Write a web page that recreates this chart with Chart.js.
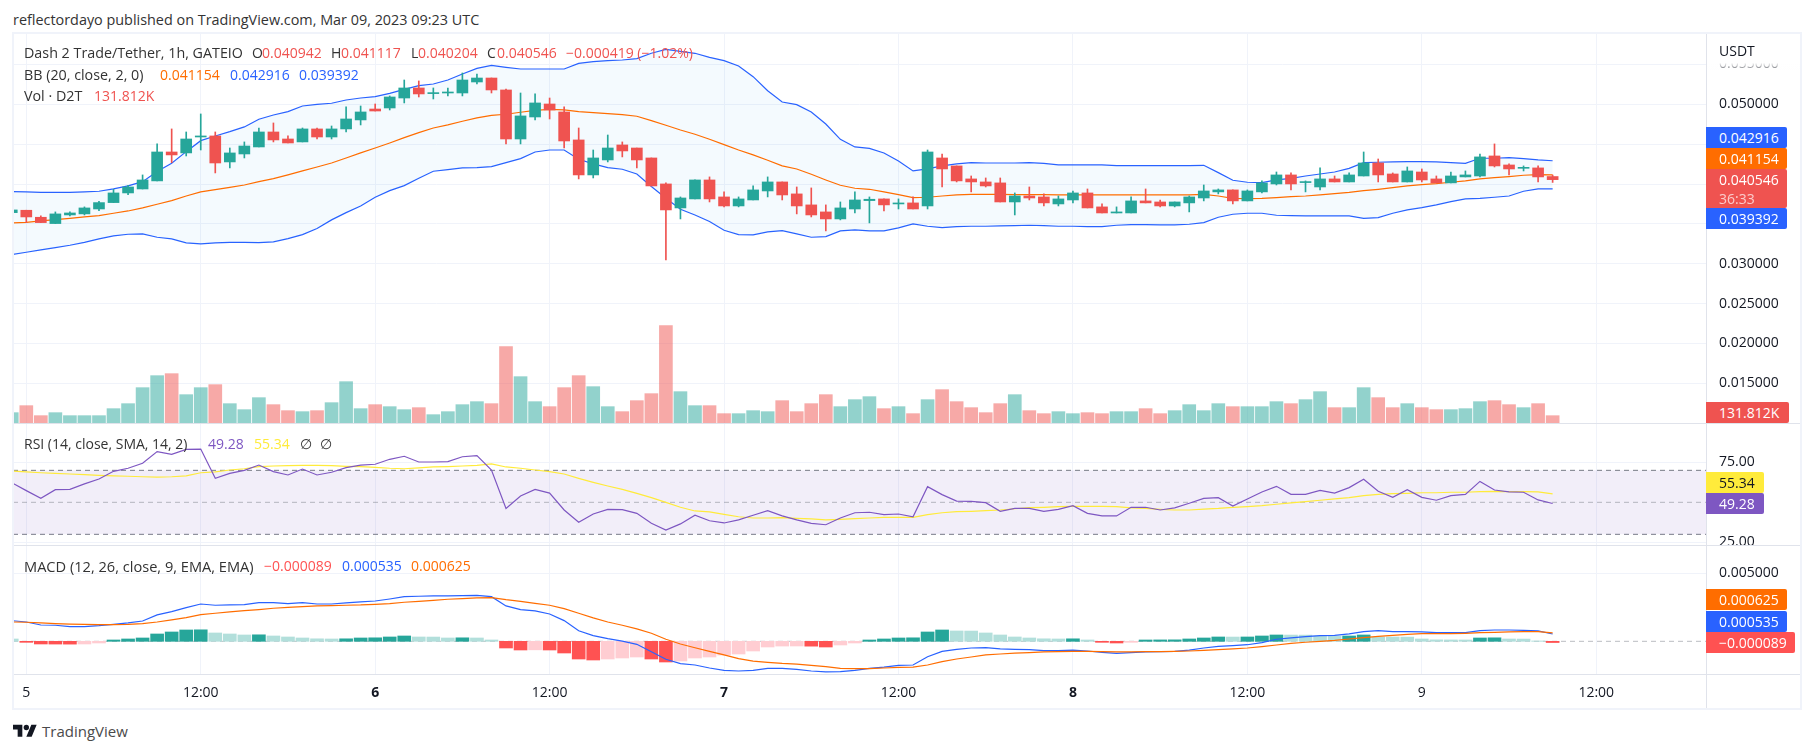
<!DOCTYPE html>
<html><head><meta charset="utf-8"><title>Dash 2 Trade/Tether</title>
<script src="https://cdn.jsdelivr.net/npm/chart.js@4"></script>
<style>
html,body{margin:0;padding:0;background:#fff;width:1814px;height:753px;overflow:hidden}
body{font-family:"Open Sans",sans-serif;font-size:14px;color:#131722;position:relative}
canvas{position:absolute;left:13px;display:block}
.t{position:absolute;white-space:pre;line-height:20px;height:20px;transform:translateY(-10px)}
.tag{position:absolute;left:1706px;padding-left:13px;box-sizing:border-box;color:#fff;line-height:21px;border-radius:0 2px 2px 0;z-index:6}
.r{position:absolute;background:#e0e3eb;z-index:5}
.f{position:absolute;background:#f0f3fa;z-index:5}
</style></head><body>
<canvas id="main" width="1788" height="389" style="top:34px"></canvas>
<canvas id="rsi" width="1788" height="122" style="top:424px"></canvas>
<canvas id="macd" width="1788" height="162" style="top:546px"></canvas>
<div class="f" style="left:12px;top:32px;width:1790px;height:2px"></div>
<div class="f" style="left:12px;top:708px;width:1790px;height:2px"></div>
<div class="f" style="left:12px;top:32px;width:2px;height:678px"></div>
<div class="f" style="left:1800px;top:32px;width:2px;height:678px"></div>
<div class="r" style="left:1706px;top:34px;width:1px;height:674px"></div>
<div class="r" style="left:14px;top:423px;width:1786px;height:1px"></div>
<div class="r" style="left:14px;top:545px;width:1786px;height:1px"></div>
<div class="r" style="left:14px;top:674px;width:1786px;height:1px"></div>
<div style="position:absolute;left:1707px;top:34px;width:93px;height:36px;background:linear-gradient(#fff 0,#fff 80%,rgba(255,255,255,.35) 100%);z-index:4"></div>
<svg style="position:absolute;left:13px;top:722px" width="24" height="19" viewBox="0 0 36 28" fill="#131722"><path d="M14 22H7V11H0V4h14v18zM28 22h-8l7.5-18h8L28 22z"/><circle cx="20" cy="8" r="4"/></svg>
<script>
const hours = Array.from({length:107},(_,i)=>i-1);
const opens = [
.03641,.03671,.03583,.03504,.03612,.03625,.03687,.03767,.03888,.03938,
.04039,.04402,.04390,.04590,.04603,.04277,.04377,.04465,.04653,.04565,
.04528,.04691,.04590,.04691,.04804,.04941,.04954,.05079,.05205,.05134,
.05142,.05142,.05280,.05330,.05180,.04565,.04841,.05004,.04904,.04553,
.04114,.04302,.04490,.04452,.04327,.04001,.03700,.03813,.04051,.03838,
.03725,.03800,.03913,.04026,.03876,.03738,.03650,.03562,.03687,.03792,
.03813,.03750,.03763,.03725,.04327,.04227,.04064,.04026,.04014,.03775,
.03850,.03838,.03750,.03800,.03888,.03713,.03637,.03637,.03788,.03775,
.03725,.03763,.03825,.03901,.03926,.03788,.03901,.04001,.04114,.04018,
.03963,.04064,.04026,.04101,.04264,.04126,.04026,.04151,.04064,.04014,
.04089,.04101,.04352,.04239,.04197,.04202,.04094];
const highs = [
.03675,.03671,.03600,.03650,.03650,.03713,.03784,.03934,.03984,.04114,
.04503,.04691,.04653,.04879,.04653,.04452,.04528,.04703,.04766,.04603,
.04703,.04703,.04728,.04967,.04979,.05004,.05105,.05305,.05293,.05205,
.05205,.05393,.05380,.05330,.05192,.05142,.05130,.05079,.04967,.04703,
.04427,.04615,.04528,.04452,.04327,.04014,.03838,.04051,.04089,.03901,
.03838,.03976,.04089,.04026,.03963,.03951,.03738,.03775,.03901,.03838,
.03813,.03813,.03838,.04427,.04377,.04227,.04101,.04076,.04076,.03888,
.03963,.03876,.03850,.03913,.03938,.03750,.03713,.03838,.03938,.03800,
.03775,.03850,.03988,.03938,.03926,.03926,.04039,.04151,.04139,.04039,
.04202,.04101,.04139,.04402,.04314,.04139,.04214,.04189,.04101,.04151,
.04164,.04377,.04503,.04252,.04227,.04227,.04112];
const lows = [
.03641,.03516,.03516,.03504,.03600,.03612,.03667,.03767,.03867,.03938,
.04039,.04268,.04352,.04427,.04139,.04202,.04327,.04465,.04528,.04515,
.04528,.04565,.04565,.04653,.04741,.04916,.04929,.05017,.05092,.05067,
.05105,.05105,.05255,.05142,.04503,.04503,.04804,.04816,.04452,.04064,
.04076,.04277,.04340,.04202,.03976,.03048,.03562,.03813,.03775,.03713,
.03713,.03800,.03838,.03800,.03625,.03587,.03412,.03550,.03637,.03512,
.03662,.03687,.03687,.03687,.03963,.04026,.03901,.03963,.03775,.03612,
.03800,.03725,.03725,.03763,.03700,.03637,.03637,.03637,.03763,.03713,
.03713,.03650,.03788,.03876,.03750,.03788,.03888,.03988,.03926,.03901,
.03926,.04026,.04026,.04101,.04026,.04026,.04026,.04026,.04014,.04014,
.04089,.04089,.04214,.04114,.04164,.04026,.04020];
const closes = [
.03675,.03587,.03516,.03625,.03637,.03700,.03767,.03888,.03963,.04051,
.04402,.04365,.04565,.04603,.04264,.04390,.04477,.04653,.04553,.04515,
.04691,.04590,.04691,.04816,.04904,.04916,.05092,.05205,.05130,.05142,
.05150,.05305,.05330,.05180,.04565,.04854,.05017,.04929,.04540,.04114,
.04327,.04452,.04415,.04302,.03976,.03675,.03825,.04051,.03813,.03725,
.03813,.03926,.04026,.03863,.03725,.03612,.03562,.03700,.03800,.03809,
.03738,.03759,.03687,.04402,.04189,.04039,.04026,.03976,.03775,.03850,
.03825,.03763,.03813,.03888,.03700,.03637,.03650,.03788,.03763,.03725,
.03775,.03838,.03913,.03926,.03788,.03913,.04014,.04114,.04001,.04026,
.04064,.04026,.04114,.04264,.04114,.04026,.04164,.04051,.04014,.04101,
.04114,.04340,.04227,.04189,.04206,.04089,.04055];
const bbUpper = [
.03905,.03901,.03896,.03896,.03896,.03901,.03909,.03938,.03976,.04030,
.04156,.04260,.04406,.04544,.04603,.04657,.04716,.04812,.04866,.04908,
.04979,.05000,.05013,.05054,.05079,.05096,.05138,.05188,.05234,.05255,
.05305,.05380,.05451,.05489,.05464,.05443,.05443,.05443,.05443,.05514,
.05535,.05548,.05556,.05573,.05640,.05690,.05665,.05640,.05589,.05548,
.05481,.05347,.05171,.05029,.04996,.04904,.04753,.04561,.04465,.04448,
.04390,.04289,.04164,.04189,.04227,.04252,.04268,.04264,.04264,.04264,
.04268,.04260,.04239,.04239,.04239,.04239,.04231,.04231,.04231,.04231,
.04231,.04231,.04235,.04143,.04047,.04022,.04018,.04051,.04072,.04101,
.04126,.04151,.04197,.04268,.04273,.04277,.04281,.04281,.04277,.04268,
.04260,.04323,.04323,.04331,.04319,.04302,.04292];
const bbBasis = [
.03512,.03520,.03537,.03554,.03570,.03587,.03604,.03633,.03662,.03700,
.03746,.03792,.03850,.03901,.03930,.03959,.03988,.04030,.04068,.04114,
.04164,.04214,.04264,.04327,.04390,.04452,.04515,.04582,.04645,.04703,
.04741,.04787,.04829,.04862,.04875,.04900,.04925,.04937,.04929,.04908,
.04895,.04883,.04870,.04850,.04795,.04737,.04678,.04624,.04561,.04494,
.04427,.04365,.04298,.04227,.04189,.04122,.04051,.03984,.03947,.03934,
.03901,.03867,.03830,.03834,.03850,.03863,.03871,.03871,.03871,.03867,
.03867,.03867,.03863,.03863,.03863,.03863,.03863,.03863,.03863,.03863,
.03863,.03863,.03871,.03850,.03821,.03817,.03821,.03830,.03842,.03850,
.03863,.03880,.03896,.03917,.03934,.03955,.03976,.03993,.04005,.04022,
.04039,.04064,.04080,.04093,.04110,.04118,.04115];
const bbLower = [
.03115,.03144,.03173,.03203,.03232,.03269,.03311,.03349,.03370,.03374,
.03332,.03311,.03261,.03249,.03261,.03269,.03269,.03265,.03274,.03315,
.03366,.03441,.03550,.03641,.03725,.03834,.03917,.03980,.04072,.04160,
.04181,.04202,.04206,.04218,.04268,.04319,.04402,.04427,.04427,.04310,
.04252,.04206,.04185,.04126,.03968,.03821,.03683,.03612,.03529,.03420,
.03366,.03361,.03399,.03416,.03374,.03332,.03341,.03412,.03424,.03412,
.03412,.03449,.03499,.03470,.03453,.03466,.03470,.03470,.03474,.03478,
.03483,.03478,.03470,.03470,.03466,.03466,.03483,.03491,.03491,.03487,
.03487,.03495,.03516,.03583,.03621,.03633,.03633,.03608,.03604,.03600,
.03600,.03600,.03600,.03570,.03579,.03633,.03675,.03704,.03738,.03779,
.03813,.03821,.03834,.03850,.03909,.03938,.03939];
const volumeK = [
186,312,132,186,132,132,132,258,348,636,
852,888,510,636,690,348,240,456,330,222,
204,222,366,744,258,330,294,240,276,150,
204,330,384,348,1374,834,384,294,636,852,
654,294,204,402,528,1752,564,312,312,168,
168,222,204,402,204,348,510,294,420,474,
258,294,168,420,600,384,276,186,348,510,
222,168,204,168,186,168,204,204,258,168,
222,330,222,348,294,294,294,384,348,420,
564,276,276,636,456,276,348,276,240,240,
258,384,402,330,276,348,131.812];
const rsiValues = [
62.3,57.3,52.5,57.9,58.1,61.5,64.6,69.4,71.3,74.4,
81.7,80.0,83.1,83.3,65.0,68.1,70.0,73.3,69.2,67.1,
70.8,67.1,68.8,71.7,73.3,73.8,76.9,78.8,75.2,75.2,
75.4,78.5,79.2,70.2,46.2,54.0,58.1,55.8,45.2,37.5,
42.7,45.6,45.4,43.1,36.9,32.7,36.5,41.9,38.5,37.1,
39.0,41.9,44.8,41.5,39.0,36.9,36.0,40.2,43.5,43.8,
42.3,42.7,41.0,59.8,54.8,50.8,50.6,49.8,44.4,46.2,
46.2,44.4,45.6,47.9,43.1,41.5,41.5,46.9,46.9,45.2,
46.5,49.4,52.5,52.9,47.7,52.1,56.5,60.0,55.0,55.0,
57.5,55.8,59.2,64.4,56.9,53.1,57.9,53.1,51.3,54.2,
55.0,63.1,57.7,56.5,56.3,51.5,49.28];
const rsiMa = [
69.6,69.0,68.5,68.1,67.7,67.3,66.9,66.5,66.3,66.0,
65.8,66.0,66.5,68.5,69.0,70.2,71.0,72.3,72.7,72.9,
73.1,73.1,72.9,72.5,72.3,71.9,71.3,71.0,71.5,72.1,
72.3,72.7,73.1,74.0,72.1,71.3,70.2,69.2,67.7,65.0,
62.5,60.2,58.1,55.6,52.9,50.0,46.9,44.6,44.0,42.5,
41.0,40.2,40.2,40.4,40.0,39.6,39.0,39.4,39.8,40.2,
40.6,40.6,40.6,42.3,43.5,44.2,44.4,44.8,45.2,46.0,
46.7,46.9,47.3,47.5,47.5,47.5,47.3,46.5,46.2,45.6,
45.2,45.2,45.8,46.2,46.9,47.3,47.9,48.8,49.6,50.4,
51.3,52.1,52.9,54.2,55.0,55.4,55.6,56.0,56.0,56.3,
56.3,56.7,56.9,56.7,56.7,56.5,55.34];
const MACD_UNIT = 1e-5; // the three MACD arrays are in units of 0.00001 USDT
const macdValues = [
152,142,120,118,108,108,115,125,135,149,
194,218,247,274,265,267,270,284,284,277,
284,274,274,282,289,296,311,328,331,333,
333,336,338,328,260,233,223,201,152,78,
42,20,2,-22,-76,-132,-164,-174,-196,-213,
-218,-213,-198,-198,-206,-218,-225,-223,-213,-198,
-189,-176,-174,-113,-74,-59,-49,-47,-56,-59,
-61,-69,-69,-64,-71,-81,-88,-83,-78,-76,
-74,-64,-49,-37,-32,-25,-10,15,25,34,
42,44,54,71,78,71,71,69,64,64,
64,78,83,83,81,76,53.5];
const macdSignal = [
142,140,135,130,127,125,123,123,125,130,
142,157,174,196,206,216,225,233,243,250,
255,260,262,265,267,272,277,287,294,301,
309,314,319,321,306,294,279,265,240,206,
172,142,118,91,59,15,-20,-47,-74,-100,
-127,-145,-154,-162,-167,-176,-186,-198,-201,-201,
-196,-191,-189,-174,-149,-130,-115,-100,-93,-86,
-83,-78,-76,-74,-74,-76,-78,-78,-76,-76,
-74,-71,-66,-61,-56,-49,-39,-27,-15,-7,
0,7,17,27,37,44,51,56,56,56,
59,64,66,69,71,71,62.5];
const macdHist = [
17.2,-7.4,-19.6,-20.1,-20.6,-19.6,-12.3,9.8,17.2,24.5,
53.9,68.6,83.3,84.5,61.3,53.9,46.6,47.8,39.2,31.9,
24.5,18.4,17.2,18.4,24.5,25.7,31.9,39.2,31.9,31.4,
24.5,25.7,24.5,9.8,-49.0,-63.7,-62.5,-63.7,-85.8,-129.9,
-137.2,-129.9,-122.5,-115.2,-129.9,-151.9,-144.6,-122.5,-115.2,-100.5,
-93.1,-71.1,-41.7,-34.8,-34.3,-35.5,-41.7,-27.0,-12.3,9.8,
17.2,24.5,25.7,68.6,83.3,76.0,75.5,61.3,46.6,31.9,
24.5,18.4,17.2,18.4,9.8,-7.4,-12.3,-7.4,9.8,10.3,
10.8,17.2,24.5,31.9,31.4,31.9,39.2,46.6,46.1,45.6,
39.2,38.7,39.2,46.6,31.9,31.4,30.9,17.2,10.8,10.3,
9.8,24.5,25.7,17.2,16.7,2.5,-8.9];
const priceTicks = [.015,.02,.025,.03,.035,.04,.045,.05,.055];
const rsiTicks = [25,75];
const macdTicks = [.005];
const dayTicks = [0,12,24,36,48,60,72,84,96,108];
const dayLabels = ['5','12:00','6','12:00','7','12:00','8','12:00','9','12:00'];
const boldDays = ['6','7','8'];

const UP='#26a69a',DOWN='#ef5350',UP_V='rgba(38,166,154,.5)',DOWN_V='rgba(239,83,80,.5)';
const BLUE='#2962ff',ORANGE='#ff6d00',PURPLE='#7e57c2',YELLOW='#ffeb3b';
const GRID='#f0f3fa',TEXT='#131722',FONT='"Open Sans",sans-serif';
const isUp = hours.map((_,i)=>closes[i]>=opens[i]);
const pts = arr => hours.map((x,i)=>({x,y:arr[i]}));
const xMin=-0.915,xMax=115.55;

function xScale(h,showTicks){return {
  type:'linear',min:xMin,max:xMax,offset:false,
  afterBuildTicks:s=>{s.ticks=dayTicks.map(value=>({value}));},
  afterFit:s=>{s.height=h;s.paddingLeft=s.paddingRight=0;},
  grid:{color:GRID,drawTicks:false,lineWidth:1,offset:false},border:{display:false},
  ticks:{display:showTicks,autoSkip:false,maxRotation:0,padding:11,color:TEXT,
    callback:(v,i)=>dayLabels[i],
    font:ctx=>({family:FONT,size:14,weight:boldDays.includes(dayLabels[ctx.index])?'bold':'normal'})}
};}
function yScale(min,max,tickVals,fmt){return {
  type:'linear',position:'right',min,max,
  afterBuildTicks:s=>{s.ticks=tickVals.map(value=>({value}));},
  afterFit:s=>{s.width=95;s.paddingTop=s.paddingBottom=0;},
  grid:{color:GRID,drawTicks:false},border:{display:false},
  ticks:{autoSkip:false,padding:13,color:TEXT,font:{family:FONT,size:14},callback:fmt}
};}
const baseOpts={responsive:false,animation:false,devicePixelRatio:1,events:[],
  layout:{padding:0,autoPadding:false},
  plugins:{legend:{display:false},tooltip:{enabled:false},title:{display:false}}};
const line=(data,color,extra)=>Object.assign({type:'line',data,borderColor:color,borderWidth:1.2,
  pointRadius:0,tension:0,fill:false},extra||{});
const bar=(data,color,thick,extra)=>Object.assign({type:'bar',data,backgroundColor:color,
  barThickness:thick,grouped:false,borderWidth:0},extra||{});

new Chart(document.getElementById('main'),{data:{datasets:[
  line(pts(bbUpper),BLUE,{yAxisID:'y',order:5,fill:'+1',backgroundColor:'rgba(33,150,243,.05)'}),
  line(pts(bbLower),BLUE,{yAxisID:'y',order:5}),
  line(pts(bbBasis),ORANGE,{yAxisID:'y',order:4}),
  bar(hours.map((x,i)=>({x,y:volumeK[i]})),isUp.map(u=>u?UP_V:DOWN_V),13,{yAxisID:'vol',order:6}),
  bar(hours.map((x,i)=>({x,y:[lows[i],highs[i]]})),isUp.map(u=>u?UP:DOWN),1,{yAxisID:'y',order:3}),
  bar(hours.map((x,i)=>({x,y:[Math.min(opens[i],closes[i]),Math.max(opens[i],closes[i])]})),isUp.map(u=>u?UP:DOWN),11,{yAxisID:'y',order:2,minBarLength:1})
]},options:Object.assign({},baseOpts,{scales:{
  x:xScale(0,false),
  y:yScale(.01002,.05882,priceTicks,v=>v.toFixed(6)),
  vol:{type:'linear',display:false,min:0,max:7002}
}})});

new Chart(document.getElementById('rsi'),{data:{datasets:[
  line([{x:xMin,y:70},{x:xMax,y:70}],'#787b86',{borderWidth:1,borderDash:[5,4],fill:{target:'+1'},backgroundColor:'rgba(126,87,194,.1)',order:6}),
  line([{x:xMin,y:30},{x:xMax,y:30}],'#787b86',{borderWidth:1,borderDash:[5,4],order:6}),
  line([{x:xMin,y:50},{x:xMax,y:50}],'rgba(120,123,134,.5)',{borderWidth:1,borderDash:[5,4],order:5}),
  line(pts(rsiMa),YELLOW,{order:4}),
  line(pts(rsiValues),PURPLE,{order:3})
]},options:Object.assign({},baseOpts,{scales:{
  x:xScale(0,false),
  y:yScale(22.7,98.96,rsiTicks,v=>v.toFixed(2))
}})});

const macdY=a=>a.map(v=>v*MACD_UNIT);
const histColor=macdHist.map((v,i)=>{
  const p=i?macdHist[i-1]:v;
  return v>=0?(p<v?'#26a69a':'#b2dfdb'):(p<v?'#ffcdd2':'#ff5252');});
new Chart(document.getElementById('macd'),{data:{datasets:[
  line([{x:xMin,y:0},{x:xMax,y:0}],'rgba(120,123,134,.5)',{borderWidth:1,borderDash:[5,4],order:6}),
  bar(hours.map((x,i)=>({x,y:macdHist[i]*MACD_UNIT})),histColor,13,{order:5}),
  line(pts(macdY(macdValues)),BLUE,{order:4}),
  line(pts(macdY(macdSignal)),ORANGE,{order:3})
]},options:Object.assign({},baseOpts,{scales:{
  x:xScale(34,true),
  y:yScale(-.0024,.0070,macdTicks,v=>v.toFixed(6))
}})});

// Header, legends, value tags (real text)
function put(x,y,str,color,extra){
  const d=document.createElement('div');d.className='t';d.textContent=str;
  d.style.left=x+'px';d.style.top=y+'px';d.style.color=color||'#333';
  if(extra)Object.assign(d.style,extra);document.body.appendChild(d);}
function tag(top,h,right,str,bg,color,sub){
  const d=document.createElement('div');d.className='tag';
  d.style.top=top+'px';d.style.height=h+'px';d.style.width=(right-1706)+'px';d.style.background=bg;
  d.style.lineHeight='21px';if(color)d.style.color=color;d.textContent=str;
  if(sub){const s=document.createElement('div');s.textContent=sub;s.style.color='rgba(255,255,255,.7)';s.style.lineHeight='18px';d.appendChild(s);}
  document.body.appendChild(d);}
const R='#ef5350';
const wide={fontSize:'14.3px'};
put(13,20,'reflectordayo published on TradingView.com, Mar 09, 2023 09:23 UTC','#333',{fontSize:'14.4px'});
put(24,53,'Dash 2 Trade/Tether, 1h, GATEIO','#333',wide);
put(252,53,'O');put(262,53,'0.040942',R);
put(331,53,'H');put(341,53,'0.041117',R);
put(411,53,'L');put(418,53,'0.040204',R);
put(487,53,'C');put(497,53,'0.040546',R);
put(566,53,'−0.000419 (−1.02%)',R);
put(24,75,'BB (20, close, 2, 0)','#333',wide);
put(160,75,'0.041154',ORANGE);put(230,75,'0.042916',BLUE);put(299,75,'0.039392',BLUE);
put(24,96,'Vol · D2T','#333',wide);put(94,96,'131.812K',R);
put(24,444,'RSI (14, close, SMA, 14, 2)');
put(208,444,'49.28',PURPLE);put(254,444,'55.34',YELLOW);put(300,444,'∅');put(320,444,'∅');
put(24,566,'MACD (12, 26, close, 9, EMA, EMA)','#333',{fontSize:'14.6px'});
put(264,566,'−0.000089','#ff5252');put(342,566,'0.000535',BLUE);put(411,566,'0.000625',ORANGE);
put(1719,51,'USDT','#131722',{zIndex:7});
put(42,731,'TradingView','#4a4a4a',{fontSize:'15px'});
tag(127,21,1787,'0.042916',BLUE);
tag(148,21,1787,'0.041154',ORANGE);
tag(169,39,1787,'0.040546',R,null,'36:33');
tag(208,21,1787,'0.039392',BLUE);
tag(402,21,1789,'131.812K',R);
tag(472,21,1764,'55.34',YELLOW,'#131722');
tag(493,21,1764,'49.28',PURPLE);
tag(589,21,1787,'0.000625',ORANGE);
tag(611,21,1787,'0.000535',BLUE);
tag(632,21,1795,'−0.000089','#ff5252');
</script>
</body></html>
